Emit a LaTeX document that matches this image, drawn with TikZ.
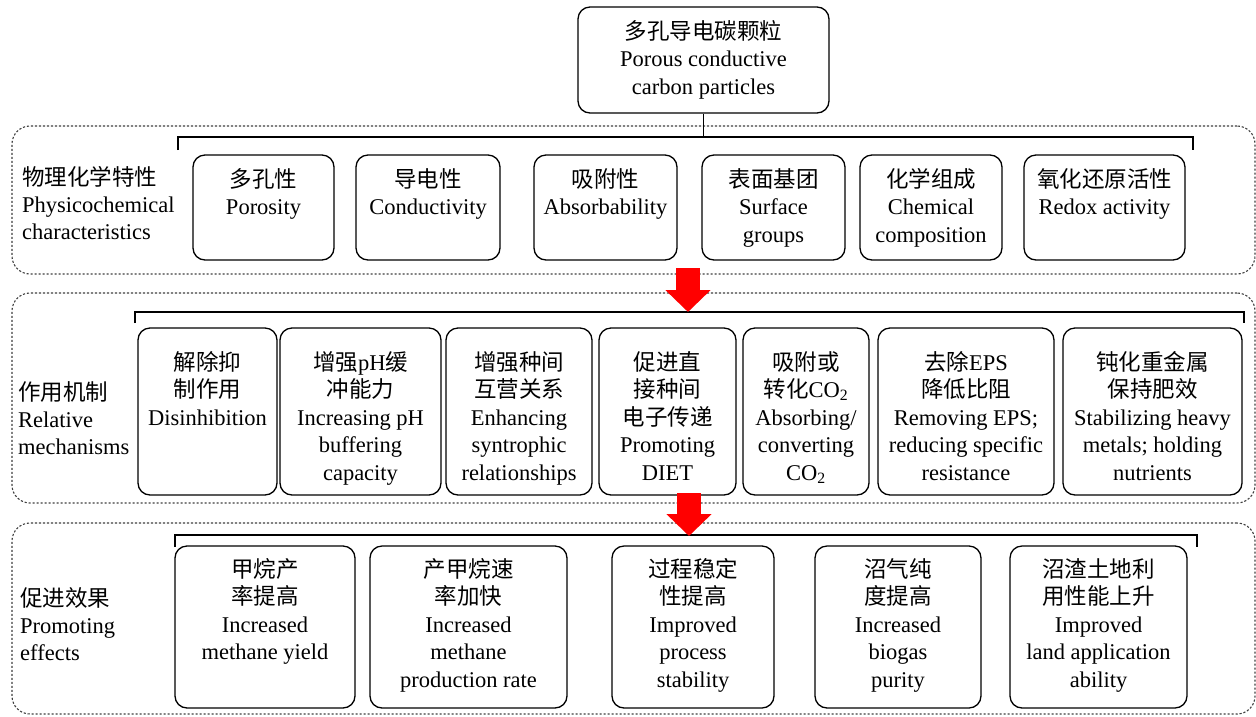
\documentclass[tikz,border=0pt]{standalone}
\usepackage{fontspec}
\setmainfont{Liberation Serif}
\newfontfamily\cjk{Noto Sans CJK SC}
\usetikzlibrary{fit,arrows.meta}
\newcommand{\zh}[1]{{\cjk #1}}
\newcommand{\cb}[7]{%
  \node[cbox, fit={(#2,#3) (#4,#5)}] (#1) {};
  \node[txt, anchor=north] (#1t) at ([yshift=-#6pt]#1.north) {#7};
}
\begin{document}
\begin{tikzpicture}[x=1pt,y=-1pt,
  panel/.style={draw=black!75, line width=1.1pt, dash pattern=on 2.2pt off 1.8pt, rounded corners=18pt, inner sep=0pt},
  cbox/.style={draw, line width=1.3pt, rounded corners=12pt, inner sep=0pt},
  txt/.style={align=center, inner sep=0pt, font=\fontsize{22.5}{27.5}\selectfont},
  lbl/.style={align=left, inner sep=0pt, anchor=north west, font=\fontsize{22.5}{27}\selectfont},
  brk/.style={line width=1.2pt},
  redarr/.style={draw=red, line width=24pt, -{Triangle[length=22pt,width=44pt]}}]
\useasboundingbox (0,0) rectangle (1256,716);
\fill[white] (0,0) rectangle (1256,716);

% panels
\node[panel, fit={(12,126) (1255,274)}] (P1) {};
\node[panel, fit={(12,293) (1255,503)}] (P2) {};
\node[panel, fit={(12,523) (1255,714)}] (P3) {};

% top box
\cb{top}{578}{7}{829}{113}{13.7}{\zh{多孔导电碳颗粒}\\Porous conductive\\carbon particles}

% brackets
\coordinate (b1l) at (178,137); \coordinate (b1r) at (1193,137);
\coordinate (b2l) at (135,312); \coordinate (b2r) at (1244,312);
\coordinate (b3l) at (175,535); \coordinate (b3r) at (1197,535);
\draw[brk] (top.south) -- (top.south |- b1l);
\draw[brk] ([yshift=-13pt]b1l) -- (b1l) -- (b1r) -- ([yshift=-13pt]b1r);
\draw[brk] ([yshift=-11pt]b2l) -- (b2l) -- (b2r) -- ([yshift=-11pt]b2r);
\draw[brk] ([yshift=-12pt]b3l) -- (b3l) -- (b3r) -- ([yshift=-12pt]b3r);

% left labels
\node[lbl] (l1) at (22,166) {\zh{物理化学特性}\\Physicochemical\\characteristics};
\node[lbl] (l2) at (18,381) {\zh{作用机制}\\Relative\\mechanisms};
\node[lbl] (l3) at (20,587) {\zh{促进效果}\\Promoting\\effects};

% row 1
\cb{a1}{193}{155}{334}{260}{13.7}{\zh{多孔性}\\Porosity}
\cb{a2}{356}{155}{500}{260}{13.7}{\zh{导电性}\\Conductivity}
\cb{a3}{534}{155}{677}{260}{13.7}{\zh{吸附性}\\Absorbability}
\cb{a4}{702}{155}{845}{260}{13.7}{\zh{表面基团}\\Surface\\groups}
\cb{a5}{860}{155}{1002}{260}{13.7}{\zh{化学组成}\\Chemical\\composition}
\cb{a6}{1024}{155}{1185}{260}{13.7}{\zh{氧化还原活性}\\Redox activity}

% row 2
\cb{m1}{138}{328}{277}{495}{23.7}{\zh{解除抑}\\\zh{制作用}\\Disinhibition}
\cb{m2}{280}{328}{441}{495}{23.7}{\zh{增强}pH\zh{缓}\\\zh{冲能力}\\Increasing pH\\buffering\\capacity}
\cb{m3}{446}{328}{592}{495}{23.7}{\zh{增强种间}\\\zh{互营关系}\\Enhancing\\syntrophic\\relationships}
\cb{m4}{599}{328}{736}{495}{23.7}{\zh{促进直}\\\zh{接种间}\\\zh{电子传递}\\Promoting\\DIET}
\cb{m5}{743}{328}{869}{495}{23.7}{\zh{吸附或}\\\zh{转化}CO\textsubscript{2}\\Absorbing/\\converting\\CO\textsubscript{2}}
\cb{m6}{878}{328}{1054}{495}{23.7}{\zh{去除}EPS\\\zh{降低比阻}\\Removing EPS;\\reducing specific\\resistance}
\cb{m7}{1063}{328}{1242}{495}{23.7}{\zh{钝化重金属}\\\zh{保持肥效}\\Stabilizing heavy\\metals; holding\\nutrients}

% row 3
\cb{e1}{175}{546}{355}{708}{12.7}{\zh{甲烷产}\\\zh{率提高}\\Increased\\methane yield}
\cb{e2}{370}{546}{567}{708}{12.7}{\zh{产甲烷速}\\\zh{率加快}\\Increased\\methane\\production rate}
\cb{e3}{612}{546}{774}{708}{12.7}{\zh{过程稳定}\\\zh{性提高}\\Improved\\process\\stability}
\cb{e4}{815}{546}{981}{708}{12.7}{\zh{沼气纯}\\\zh{度提高}\\Increased\\biogas\\purity}
\cb{e5}{1010}{546}{1187}{708}{12.7}{\zh{沼渣土地利}\\\zh{用性能上升}\\Improved\\land application\\ability}

% red arrows
\coordinate (r1s) at (688,268); \coordinate (r1e) at (688,312);
\coordinate (r2s) at (689,493); \coordinate (r2e) at (689,536);
\draw[redarr] (r1s) -- (r1e);
\draw[redarr] (r2s) -- (r2e);
\end{tikzpicture}
\end{document}
